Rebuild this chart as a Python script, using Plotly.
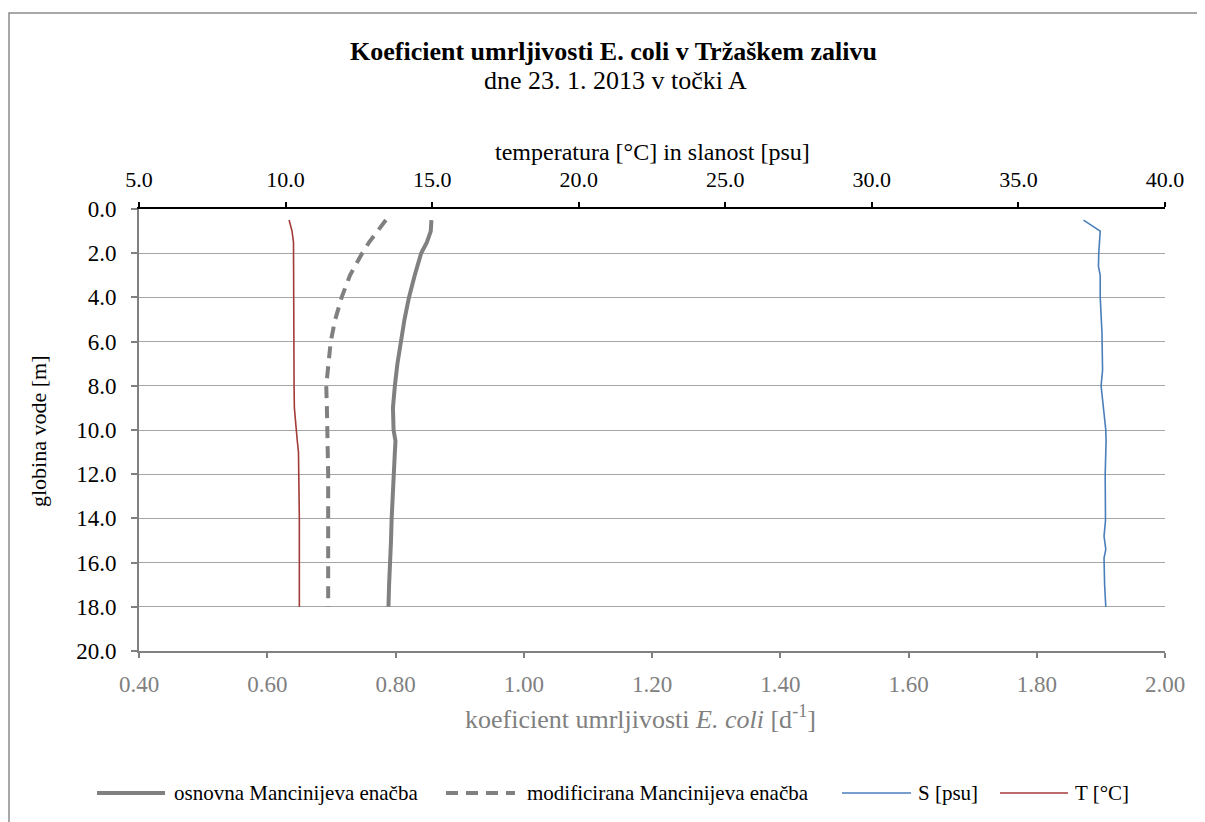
import plotly.graph_objects as go

# depth [m] for the mortality coefficients and temperature
depth = [0.5, 1.0, 1.5, 2.0, 3.0, 4.0, 5.0, 6.0, 7.0, 8.0, 9.0, 10.0, 10.5, 11.0,
         12.0, 13.0, 14.0, 15.0, 16.0, 17.0, 18.0]
# basic Mancini equation
k_basic = [0.856, 0.855, 0.849, 0.840, 0.830, 0.821, 0.814, 0.808, 0.803, 0.799, 0.796,
           0.797, 0.800, 0.799, 0.797, 0.796, 0.794, 0.793, 0.791, 0.790, 0.789]
# modified Mancini equation
k_mod = [0.785, 0.772, 0.759, 0.748, 0.729, 0.716, 0.706, 0.699, 0.695, 0.692, 0.693,
         0.694, 0.695, 0.695, 0.695, 0.695, 0.695, 0.695, 0.695, 0.695, 0.695]
# temperature [°C]
temperature = [10.12, 10.22, 10.27, 10.27, 10.27, 10.28, 10.28, 10.29, 10.29, 10.29, 10.30,
               10.35, 10.40, 10.44, 10.46, 10.46, 10.47, 10.47, 10.47, 10.47, 10.47]
# salinity profile [psu]
depth_s = [0.5, 1.0, 2.0, 2.6, 3.0, 4.0, 5.6, 7.3, 8.0, 10.0, 10.5, 12.0, 14.1, 14.8,
           15.4, 15.8, 17.0, 18.0]
salinity = [37.22, 37.79, 37.74, 37.73, 37.79, 37.79, 37.85, 37.87, 37.82, 37.98, 37.99,
            37.96, 37.97, 37.92, 37.98, 37.92, 37.94, 37.98]

series_names = ["osnovna Mancinijeva enačba", "modificirana Mancinijeva enačba",
                "S [psu]", "T [°C]"]

FONT = "Liberation Serif"
GRAY = "#808080"
BLUE = "#4a7ebb"
RED = "#a33b38"
DASH = "12px,8px"

# plot area in page pixels (the page body has an 8px margin)
PL, PR, PT, PB = 139, 1165, 209, 651
W, H = PR - PL, PB - PT


def px(x):
    return (x - PL) / W


def py(y):
    return (PB - y) / H


fig = go.Figure()
fig.add_trace(go.Scatter(x=k_basic, y=depth, mode="lines", name=series_names[0],
                         line=dict(color=GRAY, width=4), xaxis="x", yaxis="y"))
fig.add_trace(go.Scatter(x=k_mod, y=depth, mode="lines", name=series_names[1],
                         line=dict(color=GRAY, width=4, dash=DASH), xaxis="x", yaxis="y"))
fig.add_trace(go.Scatter(x=salinity, y=depth_s, mode="lines", name=series_names[2],
                         line=dict(color=BLUE, width=1.6), xaxis="x2", yaxis="y"))
fig.add_trace(go.Scatter(x=temperature, y=depth, mode="lines", name=series_names[3],
                         line=dict(color=RED, width=1.6), xaxis="x2", yaxis="y"))

fig.update_layout(
    width=1205, height=822,
    margin=dict(l=PL - 8, r=1213 - PR, t=PT - 8, b=830 - PB, autoexpand=False),
    paper_bgcolor="white", plot_bgcolor="white",
    font=dict(family=FONT, size=21, color="black"),
    showlegend=False,
    xaxis=dict(range=[0.4, 2.0], dtick=0.2, tickformat=".2f", side="bottom",
               showline=True, linecolor=GRAY, linewidth=2, ticks="outside", ticklen=5,
               tickcolor=GRAY, tickwidth=1.5, showgrid=False, zeroline=False,
               ticklabelstandoff=6,
               tickfont=dict(family=FONT, size=23, color=GRAY)),
    xaxis2=dict(range=[5, 40], dtick=5, tickformat=".1f", side="top", overlaying="x",
                anchor="y", showline=True, linecolor="black", linewidth=2, ticks="outside",
                ticklen=5, tickcolor="black", tickwidth=1.5, showgrid=False, zeroline=False,
                ticklabelstandoff=6,
                tickfont=dict(family=FONT, size=22, color="black")),
    yaxis=dict(range=[20, 0], dtick=2, tickformat=".1f", showline=True, linecolor=GRAY,
               linewidth=2, ticks="outside", ticklen=6, tickcolor=GRAY, tickwidth=1.5,
               showgrid=True, gridcolor="#a6a6a6", gridwidth=1, zeroline=False,
               ticklabelstandoff=10,
               tickfont=dict(family=FONT, size=23, color="black")),
)

# titles
fig.add_annotation(text="<b>Koeficient umrljivosti E. coli v Tržaškem zalivu</b>",
                   xref="paper", yref="paper", x=px(613), y=py(52), showarrow=False,
                   font=dict(family=FONT, size=26, color="black"), yanchor="middle")
fig.add_annotation(text="dne 23. 1. 2013 v točki A",
                   xref="paper", yref="paper", x=px(615), y=py(81), showarrow=False,
                   font=dict(family=FONT, size=26, color="black"), yanchor="middle")
# axis titles
fig.add_annotation(text="temperatura [°C] in slanost [psu]",
                   xref="paper", yref="paper", x=px(652), y=py(152), showarrow=False,
                   font=dict(family=FONT, size=24, color="black"), yanchor="middle")
fig.add_annotation(text="koeficient umrljivosti <i>E. coli</i> [d<sup>-1</sup>]",
                   xref="paper", yref="paper", x=px(640), y=py(717), showarrow=False,
                   font=dict(family=FONT, size=26, color=GRAY), yanchor="middle")
fig.add_annotation(text="globina vode [m]", textangle=-90,
                   xref="paper", yref="paper", x=px(38), y=py(431), showarrow=False,
                   font=dict(family=FONT, size=22, color="black"),
                   xanchor="center", yanchor="middle")

# legend (drawn manually to match the original spacing)
LEG_Y = py(793)
legend_items = [
    (series_names[0], GRAY, 4, "solid", 97, 165, 172),
    (series_names[1], GRAY, 4, DASH, 446, 515, 525),
    (series_names[2], BLUE, 1.6, "solid", 842, 911, 916),
    (series_names[3], RED, 1.6, "solid", 1000, 1068, 1073),
]
for name, color, width, dash, x0, x1, xt in legend_items:
    fig.add_shape(type="line", xref="paper", yref="paper", x0=px(x0), x1=px(x1),
                  y0=LEG_Y, y1=LEG_Y, line=dict(color=color, width=width, dash=dash))
    fig.add_annotation(text=name, xref="paper", yref="paper", x=px(xt), y=LEG_Y,
                       showarrow=False, xanchor="left", yanchor="middle",
                       font=dict(family=FONT, size=21, color="black"))

# outer chart frame
fig.add_shape(type="rect", xref="paper", yref="paper",
              x0=px(9), x1=px(1230), y0=py(850), y1=py(13),
              line=dict(color="#8c8c8c", width=1.5), layer="below")

fig.write_html("out.html")
